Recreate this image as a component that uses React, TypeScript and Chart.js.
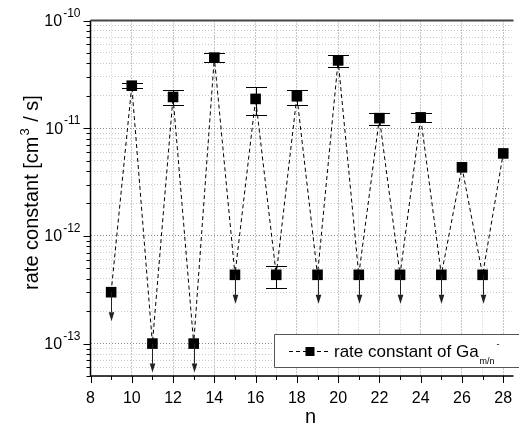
import React, { useEffect, useRef } from 'react';
import { Chart, registerables } from 'chart.js';

Chart.register(...registerables);

// ---------- data ----------
const nValues = [9, 10, 11, 12, 13, 14, 15, 16, 17, 18, 19, 20, 21, 22, 23, 24, 25, 26, 27, 28];
const rateValues = [
  3.0e-13, 2.48e-11, 1.0e-13, 1.95e-11, 1.0e-13, 4.52e-11, 4.35e-13, 1.87e-11, 4.35e-13, 1.98e-11,
  4.35e-13, 4.26e-11, 4.35e-13, 1.24e-11, 4.35e-13, 1.26e-11, 4.35e-13, 4.33e-12, 4.35e-13, 5.83e-12,
];
const errUpper = [
  null, 2.63e-11, null, 2.25e-11, null, 4.95e-11, null, 2.42e-11, 5.27e-13, 2.28e-11,
  null, 4.74e-11, null, 1.38e-11, null, 1.39e-11, null, null, null, null,
];
const errLower = [
  null, 2.35e-11, null, 1.65e-11, null, 4.08e-11, null, 1.33e-11, 3.27e-13, 1.63e-11,
  null, 3.7e-11, null, 1.075e-11, null, 1.14e-11, null, null, null, null,
];
const upperLimit = [
  true, false, true, false, true, false, true, false, false, false,
  true, false, true, false, true, false, true, false, true, false,
];

const xTickValues = [8, 9, 10, 11, 12, 13, 14, 15, 16, 17, 18, 19, 20, 21, 22, 23, 24, 25, 26, 27, 28];
const xLabelValues = [8, 10, 12, 14, 16, 18, 20, 22, 24, 26, 28];
const yDecadeExponents = [-14, -13, -12, -11, -10];
const yMantissas = [1, 2, 3, 4, 5, 6, 7, 8, 9];
const yLabelExponents = [-13, -12, -11, -10];

const yTitleMain = 'rate constant [cm';
const yTitleSup = '3';
const yTitleEnd = ' / s]';
const xTitle = 'n';
const legendMain = 'rate constant of Ga';
const legendSub = 'm/n';
const legendSup = '-';

const X_MIN = 8;
const X_MAX = 28.4;
const Y_MIN = 5e-14;
const Y_MAX = 1e-10;

const FONT = '"Liberation Sans", Arial, sans-serif';

const yTickValues: number[] = [];
yDecadeExponents.forEach((k) => {
  yMantissas.forEach((m) => {
    const v = Number(`${m}e${k}`);
    if (v >= Y_MIN * 0.999 && v <= Y_MAX * 1.001) yTickValues.push(v);
  });
});

const isDecade = (v: number) => {
  const l = Math.log10(v);
  return Math.abs(l - Math.round(l)) < 1e-6;
};

const customPlugin = {
  id: 'customDraw',
  afterDatasetsDraw(chart: any) {
    const ctx = chart.ctx;
    const xs = chart.scales.x;
    const ys = chart.scales.y;
    ctx.save();
    // error bars
    ctx.strokeStyle = '#000';
    ctx.lineWidth = 1;
    nValues.forEach((n, i) => {
      const hi = errUpper[i];
      const lo = errLower[i];
      if (hi == null || lo == null) return;
      const x = Math.round(xs.getPixelForValue(n)) + 0.5;
      const yh = Math.round(ys.getPixelForValue(hi)) + 0.5;
      const yl = Math.round(ys.getPixelForValue(lo)) + 0.5;
      ctx.beginPath();
      ctx.moveTo(x, yh);
      ctx.lineTo(x, yl);
      ctx.moveTo(x - 10.5, yh);
      ctx.lineTo(x + 10.5, yh);
      ctx.moveTo(x - 10.5, yl);
      ctx.lineTo(x + 10.5, yl);
      ctx.stroke();
    });
    // upper-limit arrows
    ctx.strokeStyle = '#222';
    ctx.fillStyle = '#222';
    nValues.forEach((n, i) => {
      if (!upperLimit[i]) return;
      const x = Math.round(xs.getPixelForValue(n)) + 0.5;
      const y = ys.getPixelForValue(rateValues[i]);
      const L = 29;
      const headH = 9;
      ctx.beginPath();
      ctx.moveTo(x, y);
      ctx.lineTo(x, y + L - headH);
      ctx.stroke();
      ctx.beginPath();
      ctx.moveTo(x - 2.8, y + L - headH);
      ctx.lineTo(x + 2.8, y + L - headH);
      ctx.lineTo(x, y + L);
      ctx.closePath();
      ctx.fill();
    });
    ctx.restore();
  },
  afterDraw(chart: any) {
    const ctx = chart.ctx;
    const xs = chart.scales.x;
    const ys = chart.scales.y;
    const area = chart.chartArea;
    ctx.save();

    // axes lines
    ctx.strokeStyle = '#000';
    ctx.lineWidth = 1.5;
    ctx.beginPath();
    ctx.moveTo(area.left, area.top);
    ctx.lineTo(area.left, area.bottom);
    ctx.lineTo(area.right + 2, area.bottom);
    ctx.stroke();
    ctx.strokeStyle = '#444';
    ctx.lineWidth = 2;
    ctx.beginPath();
    ctx.moveTo(area.left, area.top);
    ctx.lineTo(area.right + 2, area.top);
    ctx.stroke();

    // y tick marks
    ctx.strokeStyle = '#000';
    ctx.lineWidth = 1;
    yTickValues.forEach((v) => {
      const y = Math.round(ys.getPixelForValue(v)) + 0.5;
      const len = isDecade(v) ? 7 : 4;
      ctx.beginPath();
      ctx.moveTo(area.left - len, y);
      ctx.lineTo(area.left, y);
      ctx.stroke();
    });
    // x tick marks
    xTickValues.forEach((v) => {
      const x = Math.round(xs.getPixelForValue(v)) + 0.5;
      const len = v % 2 === 0 ? 7 : 4;
      ctx.beginPath();
      ctx.moveTo(x, area.bottom);
      ctx.lineTo(x, area.bottom + len);
      ctx.stroke();
    });

    // x tick labels
    ctx.fillStyle = '#000';
    ctx.font = `16px ${FONT}`;
    ctx.textAlign = 'center';
    ctx.textBaseline = 'alphabetic';
    xLabelValues.forEach((v) => {
      ctx.fillText(String(v), xs.getPixelForValue(v), 403);
    });

    // y tick labels 10^k
    yLabelExponents.forEach((k) => {
      const y = ys.getPixelForValue(Number(`1e${k}`));
      const sup = String(k);
      ctx.font = `12px ${FONT}`;
      const supW = ctx.measureText(sup).width;
      const right = area.left - 10;
      ctx.textAlign = 'left';
      ctx.textBaseline = 'alphabetic';
      ctx.fillText(sup, right - supW, y - 4);
      ctx.font = `16px ${FONT}`;
      ctx.textAlign = 'right';
      ctx.textBaseline = 'middle';
      ctx.fillText('10', right - supW - 1, y + 1);
    });

    // x title
    ctx.font = `20px ${FONT}`;
    ctx.textAlign = 'center';
    ctx.textBaseline = 'alphabetic';
    ctx.fillText(xTitle, 310.5, 423);

    // y title
    ctx.save();
    ctx.translate(37.5, 192.5);
    ctx.rotate(-Math.PI / 2);
    ctx.textAlign = 'left';
    ctx.textBaseline = 'alphabetic';
    ctx.font = `20px ${FONT}`;
    const w1 = ctx.measureText(yTitleMain).width;
    const w3 = ctx.measureText(yTitleEnd).width;
    ctx.font = `13px ${FONT}`;
    const w2 = ctx.measureText(yTitleSup).width;
    const total = w1 + w2 + 2 + w3;
    let px = -total / 2;
    ctx.font = `20px ${FONT}`;
    ctx.fillText(yTitleMain, px, 0);
    px += w1 + 1;
    ctx.font = `13px ${FONT}`;
    ctx.fillText(yTitleSup, px, -9);
    px += w2 + 1;
    ctx.font = `20px ${FONT}`;
    ctx.fillText(yTitleEnd, px, 0);
    ctx.restore();

    // legend
    ctx.fillStyle = '#fff';
    ctx.strokeStyle = '#555';
    ctx.lineWidth = 1;
    ctx.beginPath();
    ctx.rect(274.5, 334.5, 260, 33);
    ctx.fill();
    ctx.stroke();
    ctx.strokeStyle = '#000';
    ctx.setLineDash([4, 3]);
    ctx.beginPath();
    ctx.moveTo(289, 351.5);
    ctx.lineTo(331, 351.5);
    ctx.stroke();
    ctx.setLineDash([]);
    ctx.fillStyle = '#000';
    ctx.fillRect(305.5, 347, 9, 9);
    ctx.font = `17px ${FONT}`;
    ctx.textAlign = 'left';
    ctx.textBaseline = 'alphabetic';
    ctx.fillText(legendMain, 334, 357);
    const lw = ctx.measureText(legendMain).width;
    ctx.font = `9px ${FONT}`;
    ctx.fillText(legendSub, 334 + lw + 1, 364);
    const sw = ctx.measureText(legendSub).width;
    ctx.fillText(legendSup, 334 + lw + sw + 3, 347);

    ctx.restore();
  },
};

export default function App() {
  const canvasRef = useRef<HTMLCanvasElement | null>(null);

  useEffect(() => {
    const canvas = canvasRef.current;
    if (!canvas) return;
    const chart = new Chart(canvas, {
      type: 'line',
      data: {
        datasets: [
          {
            label: 'rate constant',
            data: nValues.map((n, i) => ({ x: n, y: rateValues[i] })),
            borderColor: '#000',
            borderWidth: 1,
            borderDash: [4, 3],
            backgroundColor: '#000',
            pointStyle: 'rect',
            pointRadius: 7.5,
            pointBorderWidth: 0,
            pointBackgroundColor: '#000',
            pointBorderColor: '#000',
            tension: 0,
            fill: false,
            clip: false as any,
          },
        ],
      },
      options: {
        animation: false,
        responsive: false,
        devicePixelRatio: 1,
        layout: { padding: { left: 90.5, top: 20.5, right: 0, bottom: 59 } },
        plugins: {
          legend: { display: false },
          tooltip: { enabled: false },
          title: { display: false },
        },
        scales: {
          x: {
            type: 'linear',
            min: X_MIN,
            max: X_MAX,
            afterBuildTicks: (s: any) => {
              s.ticks = xTickValues.map((v) => ({ value: v }));
            },
            ticks: { display: false },
            grid: {
              drawTicks: false,
              lineWidth: 1,
              color: (c: any) => (c.tick && c.tick.value % 2 === 0 ? '#8a8a8a' : '#c8c8c8'),
            },
            border: { display: false, dash: [1, 2] },
          },
          y: {
            type: 'logarithmic',
            min: Y_MIN,
            max: Y_MAX,
            afterBuildTicks: (s: any) => {
              s.ticks = yTickValues.map((v) => ({ value: v }));
            },
            ticks: { display: false },
            grid: {
              drawTicks: false,
              lineWidth: 1,
              color: (c: any) => (c.tick && isDecade(c.tick.value) ? '#8a8a8a' : '#c8c8c8'),
            },
            border: { display: false, dash: [1, 2] },
          },
        },
      },
      plugins: [customPlugin],
    } as any);
    return () => chart.destroy();
  }, []);

  return (
    <div style={{ position: 'absolute', left: 0, top: 0, width: 519, height: 435, background: '#fff' }}>
      <canvas ref={canvasRef} width={519} height={435} style={{ width: 519, height: 435, display: 'block' }} />
    </div>
  );
}
